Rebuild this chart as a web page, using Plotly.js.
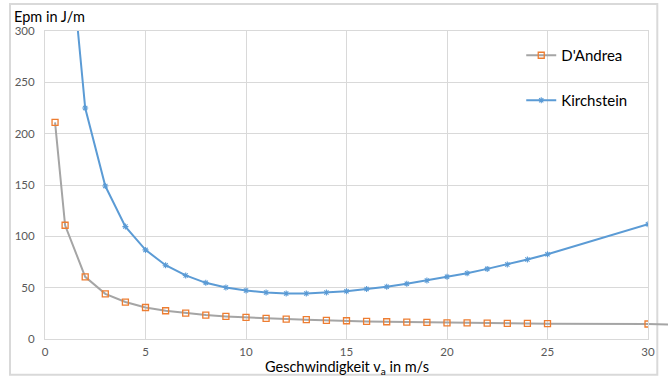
<!DOCTYPE html>
<html>
<head>
<meta charset="utf-8">
<script src="https://cdn.plot.ly/plotly-3.0.1.min.js"></script>
<style>html,body{margin:0;padding:0;background:#fff;}#chart{width:668px;height:376px;}</style>
</head>
<body>
<div id="chart"></div>
<script>
var dandreaX = [0.5,1,2,3,4,5,6,7,8,9,10,11,12,13,14,15,16,17,18,19,20,21,22,23,24,25,30];
var dandreaY = [211,110.8,60.6,44,36,30.7,27.5,25.3,23.3,22,21,20,19.4,18.8,18.1,17.8,17.1,16.8,16.5,16.2,15.8,15.8,15.5,15.2,15.2,14.9,14.6];
var kirchX = [1,2,3,4,5,6,7,8,9,10,11,12,13,14,15,16,17,18,19,20,21,22,23,24,25,30];
var kirchY = [432,225,149,109.5,86.8,71.9,61.9,54.7,50.2,47.3,45.3,44.3,44.3,45.3,46.6,48.6,50.8,53.8,57,60.6,64.1,68.3,72.5,77.4,82.6,111.8];
var xTicks = [0,5,10,15,20,25,30];
var yTicks = [0,50,100,150,200,250,300];

var fontFam = 'Lato, Carlito, Calibri, sans-serif';
var traces = [
  {x: dandreaX, y: dandreaY, name: "D'Andrea", type: 'scatter', mode: 'lines+markers',
   line: {color: '#A5A5A5', width: 2},
   marker: {symbol: 'square-open', color: '#ED7D31', size: 6, line: {width: 1.3, color: '#ED7D31'}},
   legend: 'legend'},
  {x: kirchX, y: kirchY, name: 'Kirchstein', type: 'scatter', mode: 'lines+markers',
   line: {color: '#5B9BD5', width: 2},
   marker: {symbol: 'asterisk-open', color: '#5B9BD5', size: 5, line: {width: 1.1, color: '#5B9BD5'}},
   legend: 'legend2'}
];

var L = 45, R = 20.3, T = 31, B = 36.7;
var pw = 668 - L - R, ph = 376 - T - B;
function px(p){ return (p - L) / pw; }
function py(p){ return (376 - B - p) / ph; }

var lastY = dandreaY[dandreaY.length - 1];

var layout = {
  width: 668, height: 376,
  margin: {l: L, r: R, t: T, b: B, pad: 0},
  paper_bgcolor: '#fff', plot_bgcolor: '#fff',
  font: {family: fontFam, size: 12, color: '#595959'},
  xaxis: {range: [0, 30], tickvals: xTicks, ticktext: xTicks.map(String),
    showgrid: true, gridcolor: '#D9D9D9', gridwidth: 1,
    showline: true, linecolor: '#D9D9D9', linewidth: 1, mirror: true,
    zeroline: false, ticks: '', ticklen: 0, ticklabelstandoff: 2,
    tickfont: {size: 11.5, color: '#595959', family: fontFam}},
  yaxis: {range: [0, 300], tickvals: yTicks, ticktext: yTicks.map(String),
    showgrid: true, gridcolor: '#D9D9D9', gridwidth: 1,
    showline: true, linecolor: '#D9D9D9', linewidth: 1, mirror: true,
    zeroline: false, ticks: '', ticklen: 0, ticklabelstandoff: 7,
    tickfont: {size: 11.5, color: '#595959', family: fontFam}},
  showlegend: true,
  legend: {x: px(521), y: py(39), xanchor: 'left', yanchor: 'top', bgcolor: 'rgba(0,0,0,0)',
    font: {size: 15, color: '#000', family: fontFam}, itemwidth: 30},
  legend2: {x: px(521), y: py(84), xanchor: 'left', yanchor: 'top', bgcolor: 'rgba(0,0,0,0)',
    font: {size: 15, color: '#000', family: fontFam}, itemwidth: 30},
  annotations: [
    {text: 'Epm in J/m', xref: 'paper', yref: 'paper', x: px(12), y: py(16), xanchor: 'left', yanchor: 'middle',
     showarrow: false, font: {size: 14.5, color: '#000', family: fontFam}},
    {text: 'Geschwindigkeit v<sub>a</sub> in m/s', xref: 'paper', yref: 'paper', x: 0.5, y: py(368),
     xanchor: 'center', yanchor: 'middle', showarrow: false, font: {size: 14.5, color: '#000', family: fontFam}}
  ],
  shapes: [
    {type: 'rect', xref: 'paper', yref: 'paper', x0: px(10), x1: px(657), y0: py(375), y1: py(4),
     line: {color: '#D9D9D9', width: 2}, fillcolor: 'rgba(0,0,0,0)', layer: 'below'},
    {type: 'line', xref: 'paper', yref: 'paper', x0: 1, x1: px(668), y0: lastY / 300, y1: (lastY - 0.4) / 300,
     line: {color: '#A5A5A5', width: 2}, layer: 'below'}
  ]
};

Plotly.newPlot('chart', traces, layout, {displayModeBar: false, staticPlot: true});
</script>
</body>
</html>
